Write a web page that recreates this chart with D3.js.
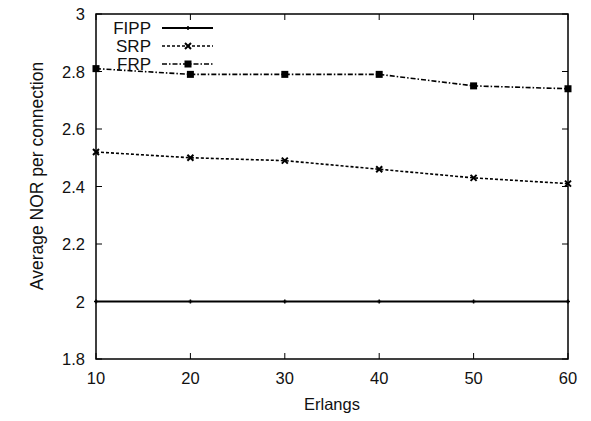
<!DOCTYPE html>
<html>
<head>
<meta charset="utf-8">
<script src="https://cdn.jsdelivr.net/npm/d3@7"></script>
<style>
  html, body { margin: 0; padding: 0; background: #fff; }
  svg { display: block; font-family: "Liberation Sans", Arial, Helvetica, sans-serif; }
</style>
</head>
<body>
<svg id="chart" width="591" height="421"></svg>
<script>
// Traffic load (Erlangs) and average NOR per connection for each scheme
const erlangs = [10, 20, 30, 40, 50, 60];
const fippValues = [2.0, 2.0, 2.0, 2.0, 2.0, 2.0];
const srpValues = [2.52, 2.50, 2.49, 2.46, 2.43, 2.41];
const frpValues = [2.81, 2.79, 2.79, 2.79, 2.75, 2.74];
const xTickValues = [10, 20, 30, 40, 50, 60];
const yTickValues = [1.8, 2.0, 2.2, 2.4, 2.6, 2.8, 3.0];
const seriesNames = ["FIPP", "SRP", "FRP"];

const series = [
  { name: seriesNames[0], values: fippValues, dash: null, width: 2, marker: "plus" },
  { name: seriesNames[1], values: srpValues, dash: "3,2", width: 1.6, marker: "cross" },
  { name: seriesNames[2], values: frpValues, dash: "5,2,1.5,2", width: 1.6, marker: "square" }
];

const svg = d3.select("#chart");
const plotLeft = 96, plotRight = 568, plotTop = 14, plotBottom = 359;

const x = d3.scaleLinear().domain([10, 60]).range([plotLeft, plotRight]);
const y = d3.scaleLinear().domain([1.8, 3.0]).range([plotBottom, plotTop]);

const fontSize = 16.5;

// Ticks drawn inward on all four sides
const tickLen = 6;
const g = svg.append("g");
xTickValues.forEach(v => {
  g.append("line").attr("x1", x(v)).attr("x2", x(v)).attr("y1", plotBottom).attr("y2", plotBottom - tickLen)
    .attr("stroke", "#000").attr("stroke-width", 1);
  g.append("line").attr("x1", x(v)).attr("x2", x(v)).attr("y1", plotTop).attr("y2", plotTop + tickLen)
    .attr("stroke", "#000").attr("stroke-width", 1);
  g.append("text").attr("x", x(v)).attr("y", 384).attr("text-anchor", "middle")
    .attr("font-size", fontSize).attr("fill", "#111").text(d3.format("d")(v));
});
yTickValues.forEach(v => {
  g.append("line").attr("x1", plotLeft).attr("x2", plotLeft + tickLen).attr("y1", y(v)).attr("y2", y(v))
    .attr("stroke", "#000").attr("stroke-width", 1);
  g.append("line").attr("x1", plotRight).attr("x2", plotRight - tickLen).attr("y1", y(v)).attr("y2", y(v))
    .attr("stroke", "#000").attr("stroke-width", 1);
  g.append("text").attr("x", 85).attr("y", y(v) + 6).attr("text-anchor", "end")
    .attr("font-size", fontSize).attr("fill", "#111").text(d3.format("~g")(+v.toFixed(1)));
});

// Frame
svg.append("rect").attr("x", plotLeft).attr("y", plotTop).attr("width", plotRight - plotLeft).attr("height", plotBottom - plotTop)
  .attr("fill", "none").attr("stroke", "#000").attr("stroke-width", 1.5);

// Axis titles
svg.append("text").attr("x", (plotLeft + plotRight) / 2).attr("y", 410).attr("text-anchor", "middle")
  .attr("font-size", fontSize).attr("fill", "#111").text("Erlangs");
svg.append("text").attr("transform", "translate(43,176) rotate(-90)")
  .attr("text-anchor", "middle").attr("font-size", 17.5).attr("fill", "#111")
  .text("Average NOR per connection");

function drawMarker(sel, type, cx, cy) {
  if (type === "plus") {
    sel.append("path").attr("d", `M${cx - 2},${cy}H${cx + 2}M${cx},${cy - 2}V${cy + 2}`)
      .attr("stroke", "#000").attr("stroke-width", 1.5);
  } else if (type === "cross") {
    const s = 3;
    sel.append("path").attr("d", `M${cx - s},${cy - s}L${cx + s},${cy + s}M${cx - s},${cy + s}L${cx + s},${cy - s}`)
      .attr("stroke", "#000").attr("stroke-width", 2);
  } else {
    sel.append("rect").attr("x", cx - 3.5).attr("y", cy - 3.5).attr("width", 7).attr("height", 7)
      .attr("fill", "#000");
  }
}

const line = d3.line().x((d, i) => x(erlangs[i])).y(d => y(d));
const plot = svg.append("g");
series.forEach(s => {
  plot.append("path").datum(s.values).attr("d", line)
    .attr("fill", "none").attr("stroke", "#000").attr("stroke-width", s.width)
    .attr("stroke-dasharray", s.dash);
  s.values.forEach((v, i) => drawMarker(plot, s.marker, x(erlangs[i]), y(v)));
});

// Legend
const legend = svg.append("g");
const legendRows = [28, 46, 64];
series.forEach((s, i) => {
  const ly = legendRows[i];
  legend.append("text").attr("x", 151).attr("y", ly + 6).attr("text-anchor", "end")
    .attr("font-size", 17).attr("fill", "#111").text(s.name);
  legend.append("line").attr("x1", 162).attr("x2", 213).attr("y1", ly).attr("y2", ly)
    .attr("stroke", "#000").attr("stroke-width", s.width).attr("stroke-dasharray", s.dash);
  drawMarker(legend, s.marker, 188, ly);
});
</script>
</body>
</html>
